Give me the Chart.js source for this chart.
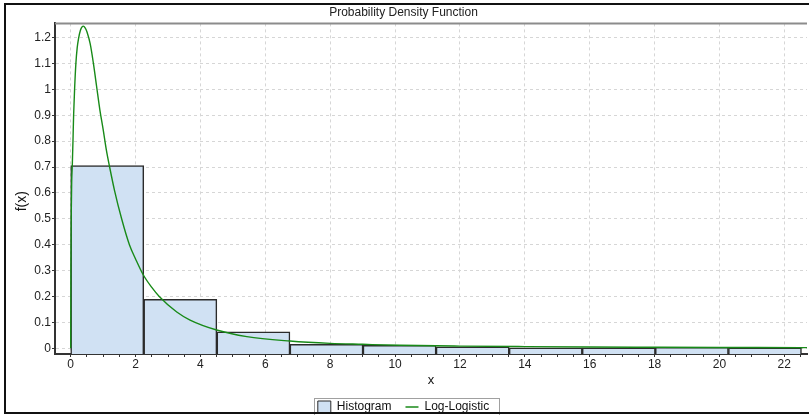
<!DOCTYPE html>
<html>
<head>
<meta charset="utf-8">
<script src="https://cdn.jsdelivr.net/npm/chart.js@4.4.1/dist/chart.umd.min.js"></script>
<style>
  html, body { margin: 0; padding: 0; background: #fff; }
</style>
</head>
<body>
<canvas id="pdf" width="809" height="415"></canvas>
<script>
// histogram bins (edges) and relative frequencies
const binEdges = [0, 2.253, 4.506, 6.759, 9.012, 11.265, 13.518, 15.771, 18.024, 20.277, 22.53];
const histValues = [0.706, 0.189, 0.064, 0.0155, 0.0115, 0.006, 0.002, 0.002, 0.004, 0.002];

// fitted Log-Logistic density
const curveX = [0, 0.005, 0.015, 0.03, 0.05, 0.07, 0.09, 0.12, 0.16, 0.2, 0.24, 0.3, 0.35, 0.39, 0.45, 0.5,
  0.6, 0.7, 0.8, 0.9, 1.0, 1.1, 1.2, 1.35, 1.57, 1.81, 2.0, 2.24, 2.5, 2.73, 3.27, 3.68, 4.5, 5.43, 6.76,
  8, 9, 10.15, 12, 14, 16, 18, 20, 22.5, 22.7];
const curveY = [0, 0.3, 0.5, 0.64, 0.71, 0.8, 0.9, 1.0, 1.1, 1.16, 1.195, 1.228, 1.241, 1.244, 1.236, 1.222,
  1.176, 1.1, 1.01, 0.92, 0.845, 0.765, 0.7, 0.61, 0.5, 0.4, 0.345, 0.283, 0.235, 0.2, 0.14, 0.109, 0.0706, 0.045, 0.028,
  0.019, 0.0154, 0.0116, 0.0085, 0.0065, 0.005, 0.004, 0.0033, 0.0027, 0.0026];

const xTicks = [0, 2, 4, 6, 8, 10, 12, 14, 16, 18, 20, 22];
const xMinorStep = 0.5;
const yTicks = [0, 0.1, 0.2, 0.3, 0.4, 0.5, 0.6, 0.7, 0.8, 0.9, 1, 1.1, 1.2];
const yTitle = 'f(x)';

const X_MIN = -0.484, X_MAX = 22.70;
const Y_MIN = -0.022, Y_MAX = 1.2545;

const FONT = "'Liberation Sans', Arial, sans-serif";
const green = 'rgb(24,138,24)';
const barFill = '#d0e1f3';
const barLine = '#2b2b2b';
const gridCol = '#d6d6d6';

const framePlugin = {
  id: 'frame',
  afterDraw(chart) {
    const {ctx, chartArea: a, legend} = chart;
    const xs = chart.scales.x;
    ctx.save();
    // top edge of the plot
    ctx.strokeStyle = '#8c8c8c';
    ctx.lineWidth = 2;
    ctx.beginPath();
    ctx.moveTo(a.left, a.top);
    ctx.lineTo(a.right, a.top);
    ctx.stroke();
    // y axis title, centred between plot top and the x title
    ctx.fillStyle = '#111';
    ctx.font = '14px ' + FONT;
    ctx.textAlign = 'center';
    ctx.textBaseline = 'middle';
    ctx.translate(22.5, (a.top + xs.bottom - 8) / 2);
    ctx.rotate(-Math.PI / 2);
    ctx.fillText(yTitle, 0, 0);
    ctx.setTransform(1, 0, 0, 1, 0, 0);
    // box round the legend
    const hb = legend.legendHitBoxes;
    if (hb && hb.length) {
      const l = hb[0].left - 4;
      const r = hb[hb.length - 1].left + hb[hb.length - 1].width + 10;
      const t = hb[0].top - 3;
      ctx.strokeStyle = '#a0a0a0';
      ctx.lineWidth = 1;
      ctx.strokeRect(Math.round(l) + 0.5, Math.round(t) + 0.5, Math.round(r - l), 30);
    }
    // outer frame
    ctx.strokeStyle = '#111';
    ctx.lineWidth = 2;
    ctx.strokeRect(5, 4, chart.width, chart.height - 6);
    ctx.restore();
  }
};

const ctx = document.getElementById('pdf').getContext('2d');
new Chart(ctx, {
  type: 'bar',
  data: {
    datasets: [
      {
        type: 'bar',
        label: 'Histogram',
        xAxisID: 'xb',
        yAxisID: 'y',
        data: histValues.map((v, i) => ({x: (binEdges[i] + binEdges[i + 1]) / 2, y: v})),
        backgroundColor: barFill,
        borderColor: barLine,
        borderWidth: 1.5,
        grouped: false,
        barPercentage: 1,
        categoryPercentage: 1,
        base: Y_MIN,
        order: 2
      },
      {
        type: 'line',
        label: 'Log-Logistic',
        xAxisID: 'x',
        yAxisID: 'y',
        data: curveX.map((x, i) => ({x: x, y: curveY[i]})),
        borderColor: green,
        backgroundColor: green,
        borderWidth: 1.4,
        pointRadius: 0,
        cubicInterpolationMode: 'monotone',
        fill: false,
        order: 1
      }
    ]
  },
  options: {
    responsive: false,
    animation: false,
    devicePixelRatio: 1,
    layout: { padding: { left: 0, right: 2, top: 0, bottom: -8 } },
    plugins: {
      tooltip: { enabled: false },
      title: {
        display: true,
        text: 'Probability Density Function',
        color: '#222',
        font: { family: FONT, size: 12, weight: 'normal' },
        padding: { top: 5, bottom: 4 }
      },
      legend: {
        display: true,
        position: 'bottom',
        labels: {
          color: '#111',
          font: { family: FONT, size: 12 },
          usePointStyle: true,
          boxHeight: 12,
          pointStyleWidth: 13,
          padding: 14,
          sort: (a, b) => a.datasetIndex - b.datasetIndex,
          generateLabels(chart) {
            const items = Chart.defaults.plugins.legend.labels.generateLabels(chart);
            items.forEach(it => {
              if (it.datasetIndex === 0) {
                it.pointStyle = 'rect';
                it.fillStyle = barFill;
                it.strokeStyle = barLine;
                it.lineWidth = 1;
              } else {
                it.pointStyle = 'line';
                it.strokeStyle = green;
                it.lineWidth = 1.5;
              }
            });
            return items;
          }
        }
      }
    },
    scales: {
      x: {
        type: 'linear',
        position: 'bottom',
        min: X_MIN,
        max: X_MAX,
        offset: false,
        afterBuildTicks(s) {
          const t = [];
          for (let v = 0; v <= X_MAX; v += xMinorStep) t.push({value: v});
          s.ticks = t;
        },
        afterFit(s) { s.height = 33; },
        grid: {
          offset: false,
          color: c => (c.tick && xTicks.includes(c.tick.value)) ? gridCol : 'rgba(0,0,0,0)',
          tickColor: '#333',
          tickLength: 3,
          lineWidth: 1
        },
        border: { display: true, color: '#333', width: 2, dash: [3, 3] },
        ticks: {
          autoSkip: false,
          maxRotation: 0,
          padding: 0,
          color: '#222',
          font: { family: FONT, size: 12 },
          callback: v => xTicks.includes(v) ? String(v) : ''
        },
        title: {
          display: true,
          text: 'x',
          color: '#111',
          font: { family: FONT, size: 13 },
          padding: { top: 0, bottom: -1 }
        }
      },
      xb: {
        type: 'linear',
        display: false,
        min: X_MIN,
        max: X_MAX,
        offset: false,
        afterBuildTicks(s) { s.ticks = [{value: X_MIN}, {value: X_MAX}]; }
      },
      y: {
        type: 'linear',
        position: 'left',
        min: Y_MIN,
        max: Y_MAX,
        afterBuildTicks(s) { s.ticks = yTicks.map(v => ({value: v})); },
        afterFit(s) { s.width = 55; },
        grid: {
          color: gridCol,
          tickColor: '#333',
          tickLength: 3,
          lineWidth: 1
        },
        border: { display: true, color: '#333', width: 2, dash: [3, 3] },
        ticks: {
          padding: 1,
          color: '#222',
          font: { family: FONT, size: 12 },
          callback: v => String(v)
        },
        title: { display: false }
      }
    }
  },
  plugins: [framePlugin]
});
</script>
</body>
</html>
